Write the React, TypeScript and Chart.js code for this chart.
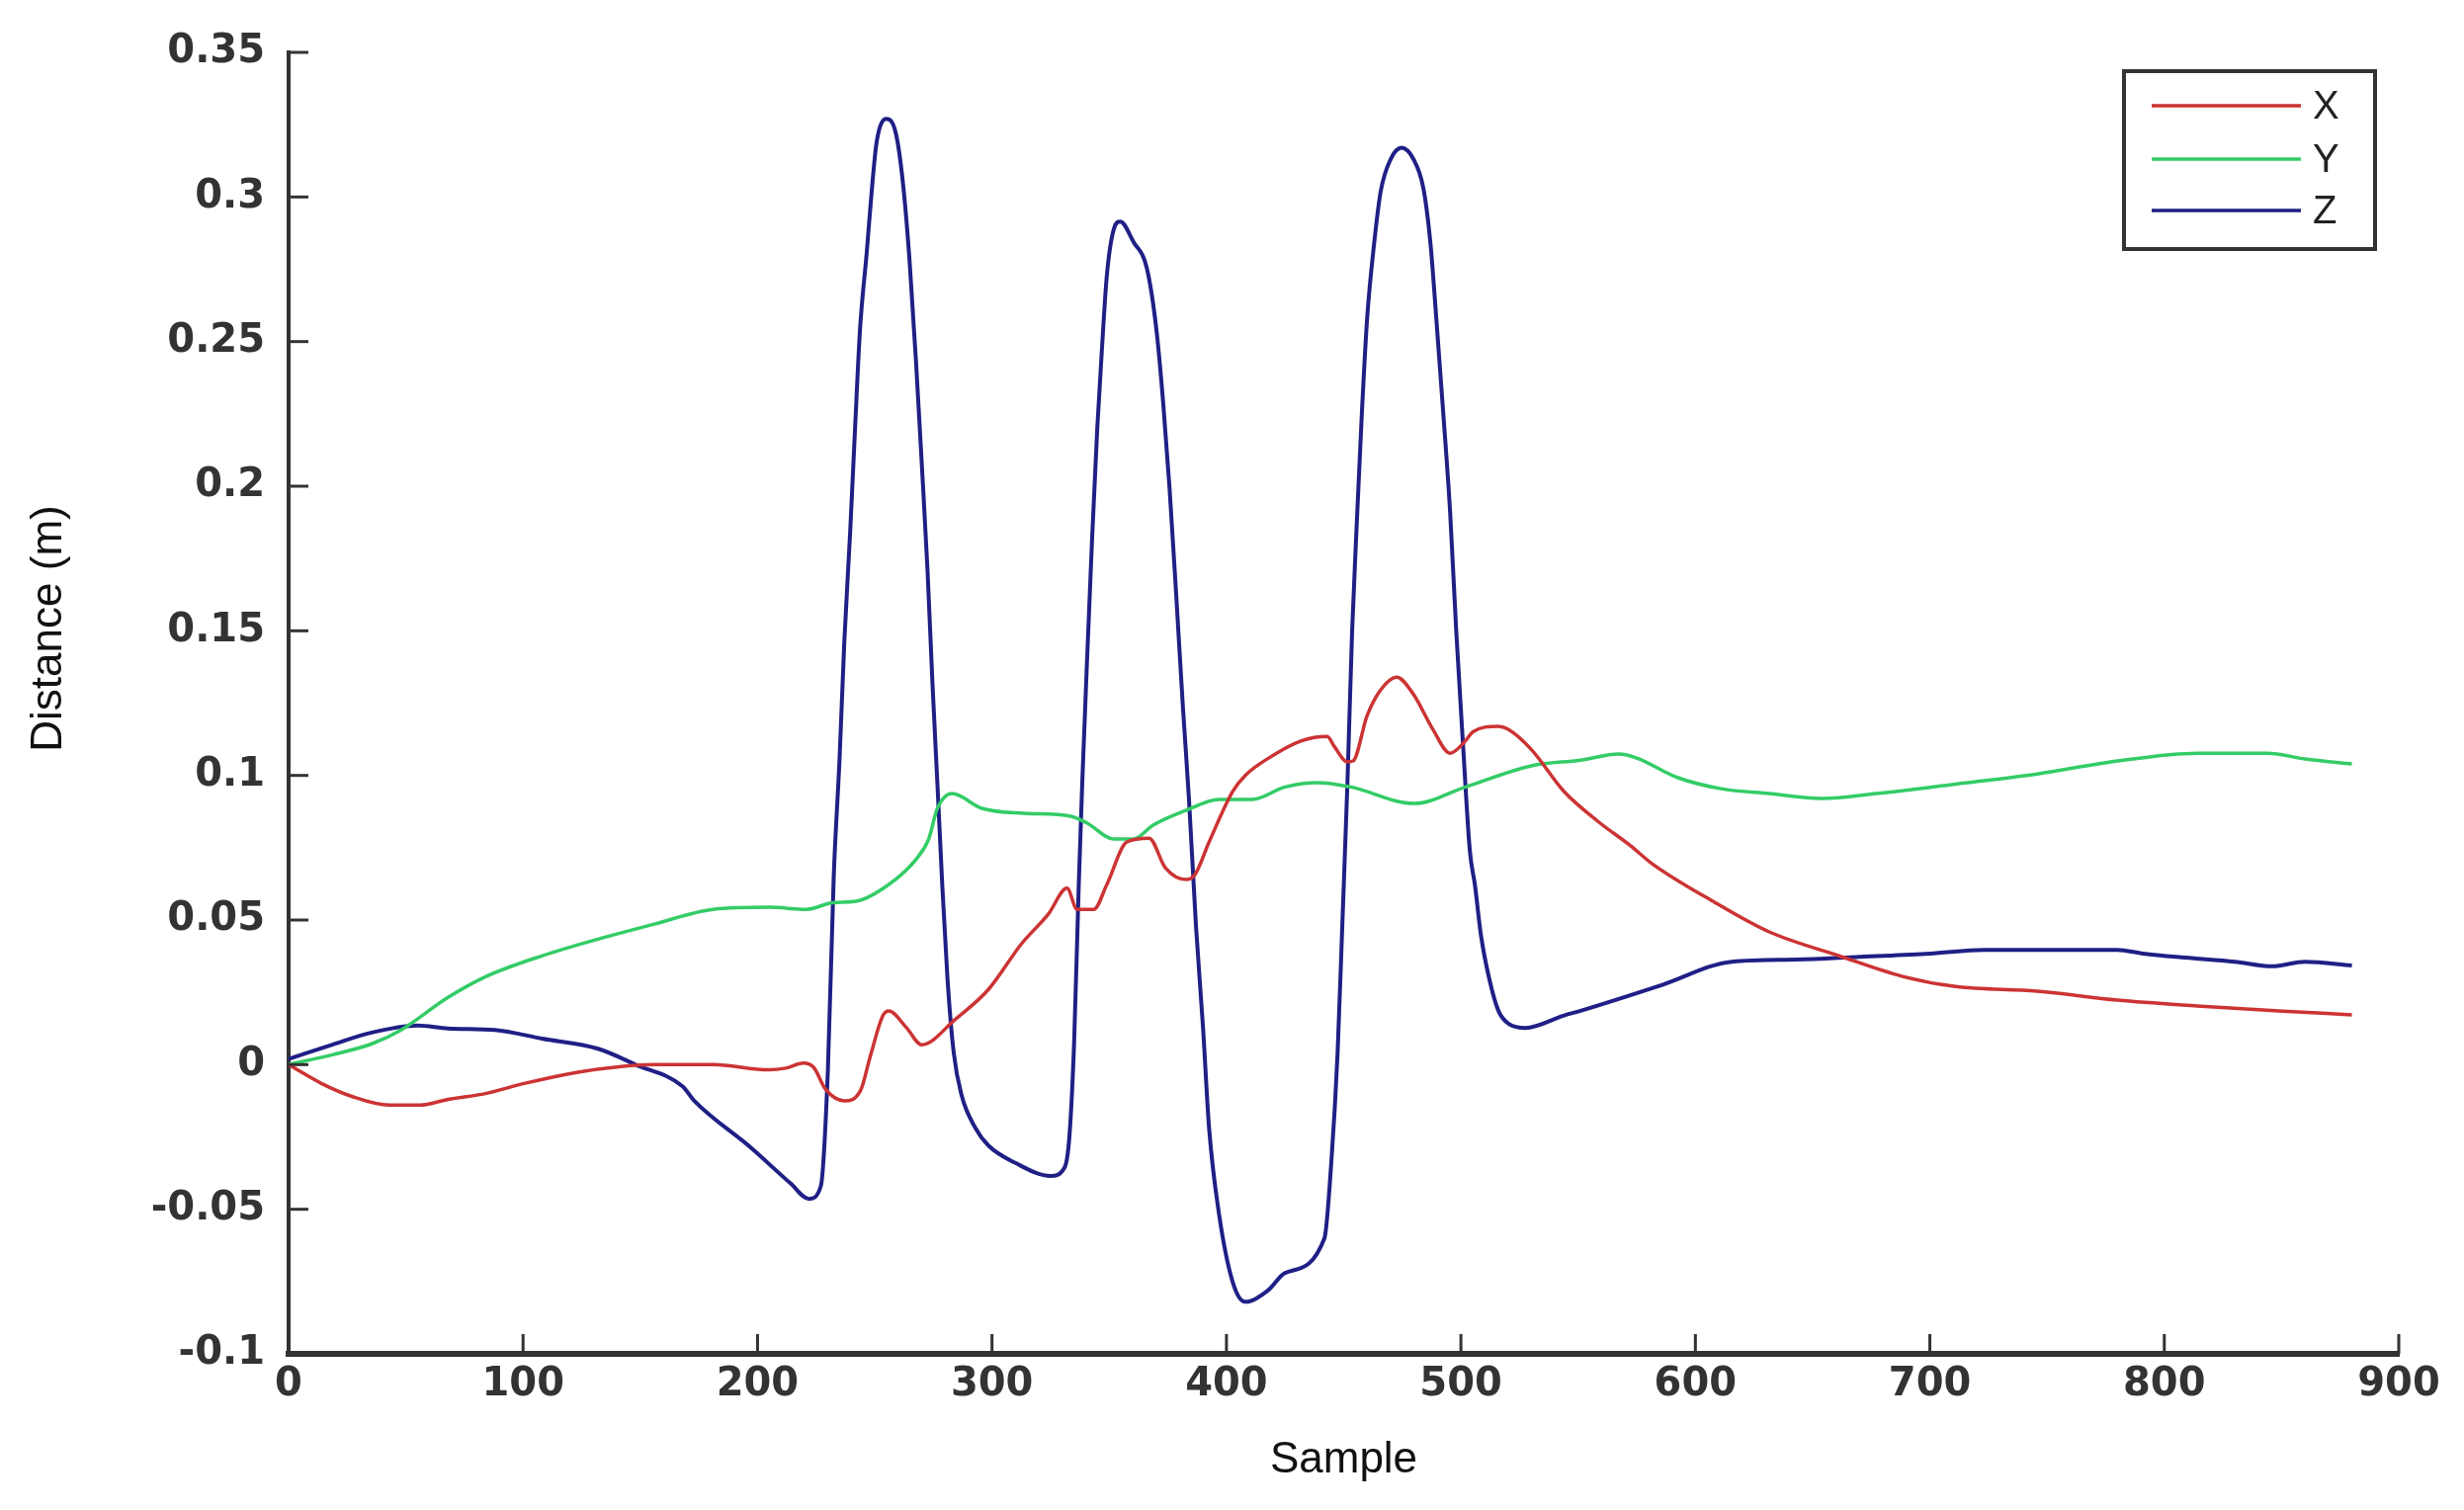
import React, { useEffect, useRef } from 'react';
import { Chart, registerables } from 'chart.js';

Chart.register(...registerables);

// sample index / value pairs
const xSamples = [0, 14, 27, 43, 56, 68, 84, 100, 124, 140, 156, 181, 205, 212, 219.5, 224, 229, 237, 244, 248, 253.5, 256, 263.5, 270, 284.5, 298.5, 312.6, 324, 332, 336.3, 343.4, 349, 357.5, 367, 374, 383, 386.6, 392.6, 402.6, 408, 418, 432, 443, 446, 451.6, 454, 460, 465.8, 472.6, 479.8, 488, 495.4, 502, 505, 516, 520, 530, 544, 558.6, 572.5, 581, 608.5, 631.5, 661, 688.4, 711, 745.8, 780, 814, 848.6, 880];
const xValues = [0, -0.0065, -0.011, -0.014, -0.014, -0.012, -0.01, -0.0066, -0.0025, -0.0008, 0, 0, -0.0018, -0.0012, 0.0005, -0.001, -0.0085, -0.0125, -0.0088, 0.0026, 0.017, 0.0186, 0.0128, 0.0069, 0.0158, 0.026, 0.0418, 0.052, 0.061, 0.0537, 0.0537, 0.0623, 0.077, 0.0783, 0.068, 0.064, 0.0657, 0.077, 0.0944, 0.1, 0.106, 0.112, 0.1135, 0.11, 0.1047, 0.105, 0.1207, 0.1296, 0.134, 0.128, 0.116, 0.1077, 0.112, 0.115, 0.117, 0.116, 0.109, 0.0944, 0.084, 0.0756, 0.0698, 0.056, 0.0459, 0.0377, 0.0305, 0.027, 0.0254, 0.0223, 0.0203, 0.0186, 0.0172];

const ySamples = [0, 19, 35.5, 48, 67.5, 84, 108, 132, 156, 181, 205, 221, 232, 242, 256, 267.6, 273, 276.7, 283, 295.7, 313.6, 333.6, 340.6, 352, 360.4, 368.7, 383, 396.8, 411, 425, 439, 453, 480, 502, 530, 551, 567.5, 575, 592.6, 611, 631.5, 654, 677, 711, 745.8, 780, 814, 844, 860, 880];
const yValues = [0, 0.0035, 0.0072, 0.012, 0.023, 0.0304, 0.0376, 0.0434, 0.0486, 0.0537, 0.0544, 0.0537, 0.056, 0.0565, 0.0623, 0.071, 0.078, 0.0886, 0.0937, 0.0886, 0.0869, 0.0859, 0.0835, 0.078, 0.078, 0.0828, 0.088, 0.0917, 0.0917, 0.096, 0.0975, 0.096, 0.0903, 0.096, 0.1033, 0.1053, 0.1074, 0.106, 0.0992, 0.0954, 0.0937, 0.092, 0.0937, 0.097, 0.1005, 0.105, 0.1077, 0.1077, 0.1057, 0.104];

const zSamples = [0, 19, 35, 55, 68, 88, 108, 132, 148, 168, 173, 197, 214, 222, 227, 230, 232.5, 235, 237, 239.5, 241.6, 243.7, 246.6, 248.7, 250.8, 255, 259, 262, 264.8, 267.6, 270, 272.5, 274.6, 276.7, 278.8, 281, 283.7, 287, 293, 298.5, 310, 325, 331, 333, 335, 337, 338.5, 340.6, 342.7, 344.9, 347, 349, 352, 354.7, 360.4, 366, 370, 373, 375.7, 378.6, 381.4, 384, 387, 390, 392.6, 396.8, 402.6, 408, 417.8, 425, 441.8, 444.7, 447.4, 449.4, 451.6, 453.6, 455.8, 457.8, 460, 463, 465.8, 470, 474.7, 479.8, 484, 487, 489.5, 492.4, 495.4, 498, 500.8, 503.8, 506, 508.5, 512, 516, 520.6, 527.5, 544, 551, 585.6, 615.5, 643, 670, 700, 723, 780, 791, 809, 830, 846, 860, 880];
const zValues = [0.002, 0.007, 0.011, 0.0135, 0.0125, 0.012, 0.009, 0.0055, 0, -0.0075, -0.0125, -0.0286, -0.041, -0.0464, -0.042, -0.002, 0.065, 0.106, 0.146, 0.184, 0.22, 0.254, 0.281, 0.302, 0.319, 0.327, 0.322, 0.305, 0.2785, 0.243, 0.2085, 0.171, 0.132, 0.0975, 0.062, 0.03, 0.004, -0.0105, -0.022, -0.028, -0.034, -0.0385, -0.0355, -0.025, 0.007, 0.062, 0.0975, 0.141, 0.182, 0.22, 0.249, 0.273, 0.289, 0.2915, 0.2844, 0.2755, 0.255, 0.229, 0.1996, 0.162, 0.124, 0.092, 0.048, 0.013, -0.022, -0.0515, -0.075, -0.082, -0.078, -0.072, -0.06, -0.034, 0.004, 0.048, 0.0975, 0.15, 0.191, 0.226, 0.258, 0.284, 0.302, 0.313, 0.317, 0.313, 0.303, 0.284, 0.258, 0.226, 0.191, 0.15, 0.112, 0.074, 0.062, 0.045, 0.03, 0.0186, 0.014, 0.0127, 0.017, 0.0186, 0.0275, 0.0356, 0.0363, 0.0373, 0.0384, 0.0397, 0.0397, 0.0384, 0.037, 0.0356, 0.034, 0.0356, 0.0343];

const seriesNames = ['X', 'Y', 'Z'];
const seriesColors = ['#cc3333', '#33cc66', '#1f1f86'];
const seriesWidths = [3.5, 3.5, 4];
const sampleTicks = [0, 100, 200, 300, 400, 500, 600, 700, 800, 900];
const distanceTicks = [-0.1, -0.05, 0, 0.05, 0.1, 0.15, 0.2, 0.25, 0.3, 0.35];

const toPoints = (xs: number[], vs: number[]) => xs.map((s, i) => ({ x: s, y: vs[i] }));

const TICK_FONT = { family: '"DejaVu Sans", Arial, sans-serif', size: 40, weight: 'bold' as const };
const AXIS_COLOR = '#333333';

// MATLAB-style inward ticks, axis titles and boxed legend
const decorPlugin = {
  id: 'decor',
  afterDraw(chart: any) {
    const { ctx, chartArea, scales } = chart;
    const xs = scales.x;
    const ys = scales.y;
    ctx.save();
    ctx.strokeStyle = AXIS_COLOR;
    ctx.lineWidth = 3;
    ys.ticks.forEach((t: any) => {
      const py = ys.getPixelForValue(t.value);
      ctx.beginPath();
      ctx.moveTo(chartArea.left, py);
      ctx.lineTo(chartArea.left + 20, py);
      ctx.stroke();
    });
    xs.ticks.forEach((t: any) => {
      const px = xs.getPixelForValue(t.value);
      ctx.beginPath();
      ctx.moveTo(px, chartArea.bottom);
      ctx.lineTo(px, chartArea.bottom - 20);
      ctx.stroke();
    });

    // axis titles
    ctx.fillStyle = '#111111';
    ctx.font = '44px "Liberation Sans", Arial, sans-serif';
    ctx.textAlign = 'center';
    ctx.textBaseline = 'alphabetic';
    ctx.fillText('Sample', (chartArea.left + chartArea.right) / 2, 1490);
    ctx.save();
    ctx.translate(62, 636);
    ctx.rotate(-Math.PI / 2);
    ctx.fillText('Distance (m)', 0, 0);
    ctx.restore();

    // legend box
    const bx = 2149, by = 72, bw = 254, bh = 180;
    ctx.fillStyle = '#ffffff';
    ctx.fillRect(bx, by, bw, bh);
    ctx.lineWidth = 4;
    ctx.strokeStyle = '#333333';
    ctx.strokeRect(bx, by, bw, bh);
    const rows = [107, 161, 213];
    chart.data.datasets.forEach((ds: any, i: number) => {
      ctx.strokeStyle = ds.borderColor;
      ctx.lineWidth = 3.5;
      ctx.beginPath();
      ctx.moveTo(2177, rows[i]);
      ctx.lineTo(2328, rows[i]);
      ctx.stroke();
      ctx.fillStyle = '#222222';
      ctx.font = '40px "Liberation Sans", Arial, sans-serif';
      ctx.textAlign = 'left';
      ctx.textBaseline = 'middle';
      ctx.fillText(ds.label, 2340, rows[i] + 2);
    });
    ctx.restore();
  },
};

const App: React.FC = () => {
  const canvasRef = useRef<HTMLCanvasElement>(null);

  useEffect(() => {
    document.body.style.margin = '0';
    document.body.style.overflow = 'hidden';
    if (!canvasRef.current) return;

    const sources = [
      [xSamples, xValues],
      [ySamples, yValues],
      [zSamples, zValues],
    ];

    const chart = new Chart(canvasRef.current, {
      type: 'line',
      data: {
        datasets: sources.map(([s, v], i) => ({
          label: seriesNames[i],
          data: toPoints(s, v),
          borderColor: seriesColors[i],
          backgroundColor: seriesColors[i],
          borderWidth: seriesWidths[i],
          pointRadius: 0,
          cubicInterpolationMode: 'monotone' as const,
          fill: false,
        })),
      },
      options: {
        animation: false,
        responsive: true,
        maintainAspectRatio: false,
        devicePixelRatio: 1,
        layout: { padding: { top: 53, right: 66, left: 0, bottom: 0 } },
        plugins: {
          legend: { display: false },
          tooltip: { enabled: false },
        },
        scales: {
          x: {
            type: 'linear',
            min: 0,
            max: 900,
            afterFit: (scale: any) => { scale.height = 158; },
            afterBuildTicks: (scale: any) => { scale.ticks = sampleTicks.map(v => ({ value: v })); },
            grid: { display: true, drawOnChartArea: false, drawTicks: false },
            border: { display: true, color: AXIS_COLOR, width: 6 },
            ticks: {
              color: '#333333',
              font: TICK_FONT,
              padding: 8,
              maxRotation: 0,
              autoSkip: false,
            },
          },
          y: {
            type: 'linear',
            min: -0.1,
            max: 0.35,
            afterFit: (scale: any) => { scale.width = 292; },
            afterBuildTicks: (scale: any) => { scale.ticks = distanceTicks.map(v => ({ value: v })); },
            grid: { display: true, drawOnChartArea: false, drawTicks: false },
            border: { display: true, color: AXIS_COLOR, width: 4 },
            ticks: {
              color: '#333333',
              font: TICK_FONT,
              padding: 24,
              autoSkip: false,
              callback: (v: any) => String(Number(Number(v).toFixed(2))),
            },
          },
        },
      },
      plugins: [decorPlugin],
    });

    return () => {
      chart.destroy();
    };
  }, []);

  return (
    <div style={{ width: '2493px', height: '1528px', position: 'relative', background: '#ffffff' }}>
      <canvas ref={canvasRef}></canvas>
    </div>
  );
};

export default App;
